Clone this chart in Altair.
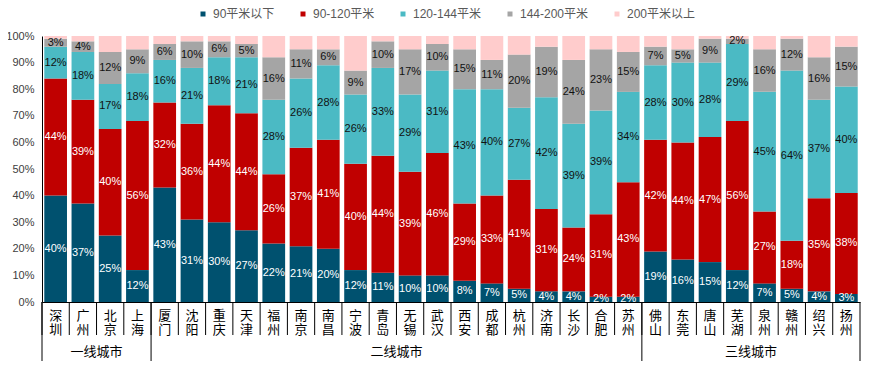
import altair as alt
import pandas as pd

cities = ["深圳", "广州", "北京", "上海", "厦门", "沈阳", "重庆", "天津", "福州", "南京",
          "南昌", "宁波", "青岛", "无锡", "武汉", "西安", "成都", "杭州", "济南", "长沙",
          "合肥", "苏州", "佛山", "东莞", "唐山", "芜湖", "泉州", "赣州", "绍兴", "扬州"]
tier_names = ["一线城市", "二线城市", "三线城市"]
tier_sizes = [4, 18, 8]

series = ["90平米以下", "90-120平米", "120-144平米", "144-200平米", "200平米以上"]
colors = ["#00516F", "#C00000", "#4BBAC4", "#A5A5A5", "#FFCCCC"]
text_colors = ["#FFFFFF", "#FFFFFF", "#111111", "#111111", None]

s_lt90 = [40, 37, 25, 12, 43, 31, 30, 27, 22, 21, 20, 12, 11, 10, 10, 8, 7, 5, 4, 4, 2, 2, 19, 16, 15, 12, 7, 5, 4, 3]
s_90_120 = [44, 39, 40, 56, 32, 36, 44, 44, 26, 37, 41, 40, 44, 39, 46, 29, 33, 41, 31, 24, 31, 43, 42, 44, 47, 56, 27, 18, 35, 38]
s_120_144 = [12, 18, 17, 18, 16, 21, 18, 21, 28, 26, 28, 26, 33, 29, 31, 43, 40, 27, 42, 39, 39, 34, 28, 30, 28, 29, 45, 64, 37, 40]
s_144_200 = [3, 4, 12, 9, 6, 10, 6, 5, 16, 11, 6, 9, 10, 17, 10, 15, 11, 20, 19, 24, 23, 15, 7, 5, 9, 2, 16, 12, 16, 15]
s_gt200 = [1, 2, 6, 5, 3, 2, 2, 3, 8, 5, 5, 13, 2, 5, 3, 5, 9, 7, 4, 9, 5, 6, 4, 5, 1, 1, 5, 1, 8, 4]

all_series = [s_lt90, s_90_120, s_120_144, s_144_200, s_gt200]

rows = []
for ci, c in enumerate(cities):
    base = 0
    for si, name in enumerate(series):
        v = all_series[si][ci]
        rows.append({"city": c, "series": name, "order": si, "value": v,
                     "lo": base, "hi": base + v, "mid": base + v / 2,
                     "label": f"{v}%", "tc": text_colors[si] or "#000000",
                     "show": text_colors[si] is not None})
        base += v
df = pd.DataFrame(rows)
df_text = df[df["show"]].copy()

# tiers
tier_first = []
tier_center = []
start = 0
for n in tier_sizes:
    tier_first.append(cities[start])
    tier_center.append(cities[start + n // 2])
    start += n
df_groups = pd.DataFrame({"city": tier_first})
df_groups_end = pd.DataFrame({"city": [cities[-1]]})
df_glabels = pd.DataFrame({"city": tier_center, "name": tier_names})
df_cities = pd.DataFrame({"city": cities})

W, H = 818, 266
xscale = alt.Scale(domain=cities, paddingInner=0, paddingOuter=0)
yscale = alt.Scale(domain=[0, 100], nice=False)

xaxis = alt.Axis(title=None, labelAngle=0, labelExpr="split(datum.label, '')",
                 labelLineHeight=14, labelFontSize=13, labelColor="#000000",
                 labelFont="Noto Sans CJK SC", labelPadding=7, ticks=False,
                 domainColor="#000000", labelBaseline="top", grid=False)
yaxis = alt.Axis(title=None, values=list(range(0, 101, 10)),
                 labelExpr="datum.value + '%'", ticks=False, grid=False,
                 domainColor="#000000", labelFontSize=11, labelColor="#404040",
                 labelFont="Liberation Sans", labelPadding=8)


def xenc(bp=None):
    if bp is None:
        return alt.X("city:N", scale=xscale, sort=cities, axis=xaxis)
    return alt.X("city:N", scale=xscale, sort=cities, axis=xaxis, bandPosition=bp)


bars = alt.Chart(df).mark_bar(width={"band": 0.833}).encode(
    x=xenc(),
    y=alt.Y("lo:Q", scale=yscale, axis=yaxis),
    y2="hi:Q",
    color=alt.Color("series:N", scale=alt.Scale(domain=series, range=colors),
                    legend=alt.Legend(title=None, orient="none", legendX=155, legendY=-28,
                                      direction="horizontal", symbolType="square",
                                      symbolSize=25, symbolStrokeWidth=0,
                                      labelFontSize=12, labelColor="#595959",
                                      labelFont="Liberation Sans, Noto Sans CJK SC",
                                      columnPadding=22, labelOffset=4, padding=0,
                                      labelLimit=200)),
    order=alt.Order("order:Q"),
)

labels = alt.Chart(df_text).mark_text(fontSize=11, font="Liberation Sans",
                                      baseline="middle", align="center").encode(
    x=xenc(),
    y=alt.Y("mid:Q", scale=yscale, axis=yaxis),
    text="label:N",
    color=alt.Color("tc:N", scale=None),
)

city_seps = alt.Chart(df_cities).mark_rule(color="#000000", strokeWidth=1).encode(
    x=xenc(0),
    y=alt.value(H),
    y2=alt.value(H + 33),
)

group_seps = alt.Chart(df_groups).mark_rule(color="#000000", strokeWidth=1).encode(
    x=xenc(0),
    y=alt.value(H),
    y2=alt.value(H + 59),
)

group_end = alt.Chart(df_groups_end).mark_rule(color="#000000", strokeWidth=1).encode(
    x=xenc(1),
    y=alt.value(H),
    y2=alt.value(H + 59),
)

group_labels = alt.Chart(df_glabels).mark_text(fontSize=13, font="Noto Sans CJK SC",
                                               baseline="middle", align="center",
                                               color="#000000").encode(
    x=xenc(0),
    y=alt.value(H + 50),
    text="name:N",
)

chart = alt.layer(bars, labels, city_seps, group_seps, group_end, group_labels).properties(
    width=W, height=H,
    autosize="none",
    padding={"left": 34, "top": 28, "right": 6, "bottom": 59},
    background="#FFFFFF",
).configure_view(stroke=None)

chart.save("out.html", embed_options={"renderer": "svg", "actions": False})
